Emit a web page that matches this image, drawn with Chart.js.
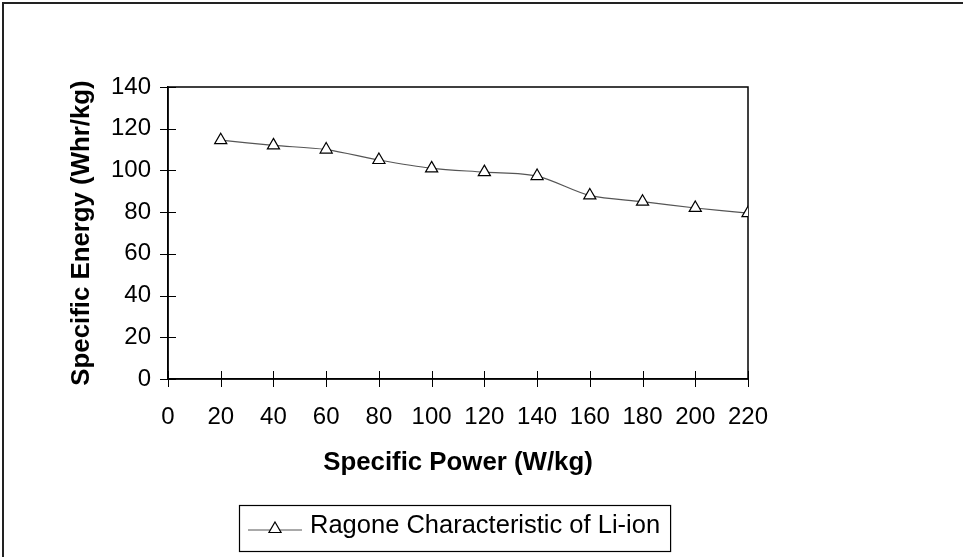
<!DOCTYPE html>
<html>
<head>
<meta charset="utf-8">
<script src="https://cdn.jsdelivr.net/npm/chart.js@4"></script>
<style>
  html, body { margin: 0; padding: 0; background: #fff; }
  #wrap { width: 963px; height: 557px; }
</style>
</head>
<body>
<div id="wrap"><canvas id="ragone"></canvas></div>
<script>
// Ragone data
const power = [20, 40, 60, 80, 100, 120, 140, 160, 180, 200, 220];
const energy = [114.5, 112, 110, 105, 101, 99.2, 97.3, 88, 85, 82, 79.5];
const seriesName = "Ragone Characteristic of Li-ion";
const xTitle = "Specific Power (W/kg)";
const yTitle = "Specific Energy (Whr/kg)";
const xTicks = [0, 20, 40, 60, 80, 100, 120, 140, 160, 180, 200, 220];
const yTicks = [0, 20, 40, 60, 80, 100, 120, 140];

const FONT = "'Liberation Sans', Arial, Helvetica, sans-serif";

function triangle(ctx, x, y, r) {
  ctx.beginPath();
  ctx.moveTo(x, y - r);
  ctx.lineTo(x + r * 0.866, y + r / 2);
  ctx.lineTo(x - r * 0.866, y + r / 2);
  ctx.closePath();
  ctx.fill();
  ctx.stroke();
}

// plot frame + tick marks that cross the axes
const framePlugin = {
  id: "frame",
  beforeDatasetsDraw(chart) {
    const ctx = chart.ctx;
    const a = chart.chartArea;
    const sx = chart.scales.x;
    const sy = chart.scales.y;
    ctx.save();
    ctx.strokeStyle = "#000";
    ctx.lineWidth = 1.5;
    ctx.strokeRect(a.left, a.top, a.right - a.left, a.bottom - a.top);
    ctx.lineWidth = 1;
    sx.ticks.forEach(t => {
      const px = Math.round(sx.getPixelForValue(t.value)) + 0.5;
      ctx.beginPath();
      ctx.moveTo(px, a.bottom - 8);
      ctx.lineTo(px, a.bottom + 8);
      ctx.stroke();
    });
    sy.ticks.forEach(t => {
      const py = Math.round(sy.getPixelForValue(t.value)) + 0.5;
      ctx.beginPath();
      ctx.moveTo(a.left - 8, py);
      ctx.lineTo(a.left + 8, py);
      ctx.stroke();
    });
    ctx.restore();
  },
  afterDraw(chart) {
    const ctx = chart.ctx;
    // outer chart border (cut off at right and bottom)
    ctx.save();
    ctx.strokeStyle = "#222";
    ctx.lineWidth = 2;
    ctx.beginPath();
    ctx.moveTo(3, chart.height);
    ctx.lineTo(3, 3);
    ctx.lineTo(chart.width, 3);
    ctx.stroke();

    // legend box
    const ds = chart.data.datasets[0];
    ctx.font = "25.5px " + FONT;
    const tw = ctx.measureText(ds.label).width;
    const bx = 239, by = 505, bh = 46;
    const bw = 71 + tw + 10;
    ctx.lineWidth = 1.2;
    ctx.strokeStyle = "#000";
    ctx.strokeRect(bx + 0.5, by + 0.5, bw, bh);
    const cy = by + 25;
    ctx.strokeStyle = ds.borderColor;
    ctx.lineWidth = 1;
    ctx.beginPath();
    ctx.moveTo(bx + 9, cy);
    ctx.lineTo(bx + 63, cy);
    ctx.stroke();
    ctx.fillStyle = "#fff";
    ctx.strokeStyle = "#000";
    ctx.lineWidth = 1.2;
    triangle(ctx, bx + 36, cy - 1, 7);
    ctx.fillStyle = "#000";
    ctx.textBaseline = "middle";
    ctx.textAlign = "left";
    ctx.fillText(ds.label, bx + 71, by + 21);
    ctx.restore();
  }
};

new Chart(document.getElementById("ragone"), {
  type: "line",
  data: {
    datasets: [{
      label: seriesName,
      data: power.map((p, i) => ({ x: p, y: energy[i] })),
      borderColor: "#555",
      borderWidth: 1.2,
      tension: 0.3,
      fill: false,
      pointStyle: "triangle",
      pointRadius: 7,
      pointBackgroundColor: "#fff",
      pointBorderColor: "#000",
      pointBorderWidth: 1.2
    }]
  },
  options: {
    responsive: true,
    maintainAspectRatio: false,
    animation: false,
    layout: { padding: { left: 62, right: 215, top: 87, bottom: 75 } },
    plugins: {
      legend: { display: false },
      tooltip: { enabled: false }
    },
    scales: {
      x: {
        type: "linear",
        min: 0,
        max: 220,
        afterBuildTicks: s => { s.ticks = xTicks.map(v => ({ value: v })); },
        afterFit: s => { s.height = 103; },
        grid: { display: false, drawTicks: false },
        border: { display: true, color: "#000", width: 1.5 },
        ticks: { color: "#000", padding: 24, maxRotation: 0, autoSkip: false, font: { family: FONT, size: 24 } },
        title: { display: true, text: xTitle, color: "#000", font: { family: FONT, size: 25.8, weight: "bold" } }
      },
      y: {
        min: 0,
        max: 140,
        afterBuildTicks: s => { s.ticks = yTicks.map(v => ({ value: v })); },
        afterFit: s => { s.width = 106; },
        grid: { display: false, drawTicks: false },
        border: { display: true, color: "#000", width: 1.5 },
        ticks: { color: "#000", padding: 17, font: { family: FONT, size: 24 } },
        title: { display: true, text: yTitle, color: "#000", font: { family: FONT, size: 25.8, weight: "bold" } }
      }
    }
  },
  plugins: [framePlugin]
});
</script>
</body>
</html>
